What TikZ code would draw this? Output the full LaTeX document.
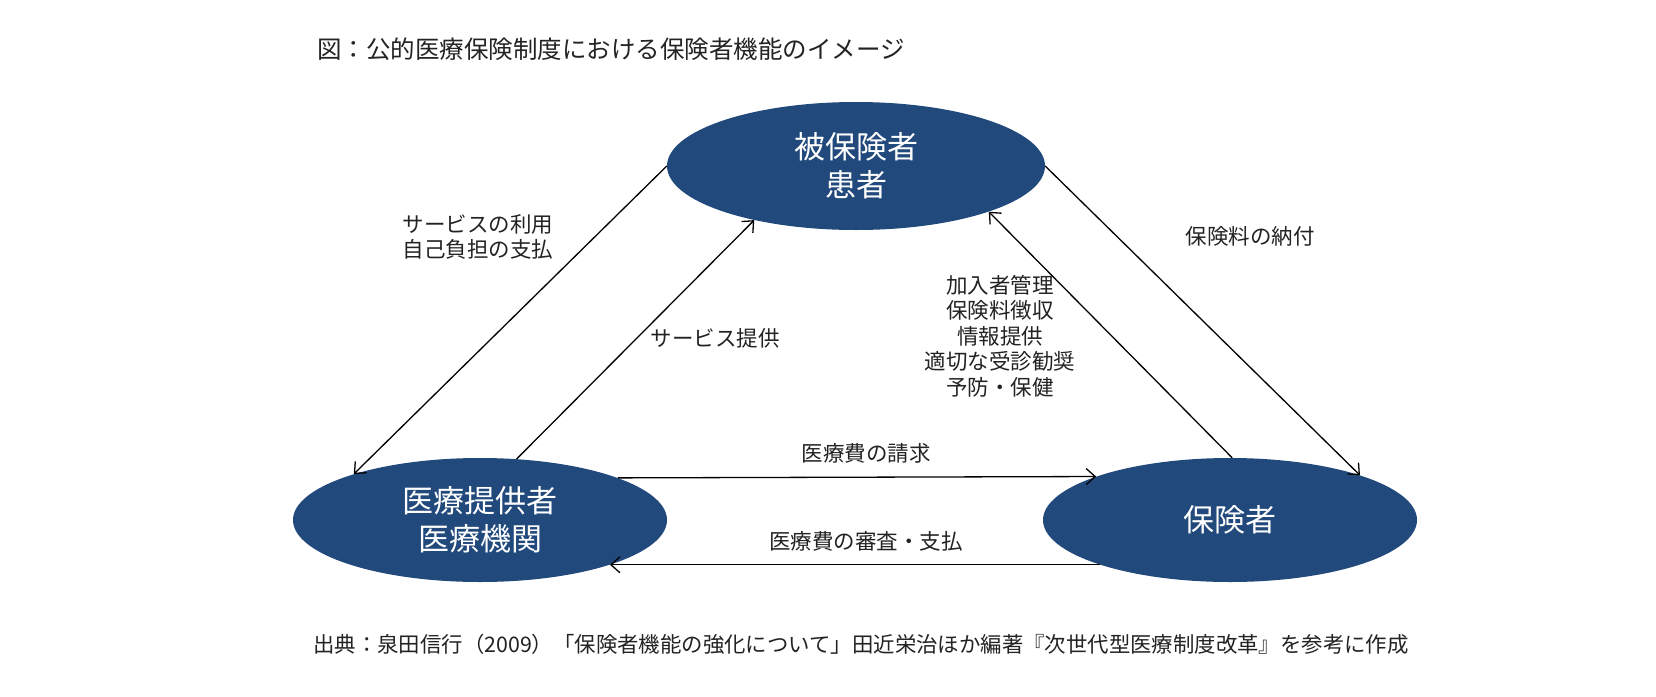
\documentclass[tikz,border=0pt]{standalone}
\usepackage{fontspec}
\setmainfont{Noto Sans CJK JP}
\usetikzlibrary{shapes.geometric,arrows.meta}
\definecolor{nodeblue}{RGB}{33,73,124}
\definecolor{txt}{RGB}{35,35,35}
\tikzset{
  party/.style={ellipse, fill=nodeblue, draw=none, text=white, inner sep=0pt,
    minimum width=374pt, minimum height=124pt, align=center,
    font=\fontsize{31}{38}\selectfont},
  flow/.style={-{Straight Barb[length=9pt,width=16pt]}, line width=1.3pt, draw=black},
  lbl/.style={text=txt, align=center, inner sep=0pt, font=\fontsize{21.5}{25.5}\selectfont},
  head/.style={text=txt, anchor=west, inner sep=0pt, font=\fontsize{24.5}{28}\selectfont},
  src/.style={text=txt, anchor=west, inner sep=0pt, font=\fontsize{21.4}{26}\selectfont}
}
\begin{document}
\begin{tikzpicture}[x=1pt,y=-1pt]
\useasboundingbox (0,0) rectangle (1656,696);
\fill[white] (0,0) rectangle (1656,696);
% nodes
\node[party, minimum width=378pt, minimum height=128pt] (hi) at (856,166) {被保険者\\患者};
\node[party] (iryo) at (480,520) {医療提供者\\医療機関};
\node[party] (hoken) at (1230,520) {保険者};
% connectors
\draw[flow] (hi.180) -- (iryo.160);
\draw[flow] (iryo.59) -- (hi.208);
\draw[flow] (hoken.88) -- (hi.341);
\draw[flow] (hi.0) -- (hoken.19);
\draw[flow] (iryo.17.7) -- (hoken.162.3);
\draw[flow] (hoken.199.3) -- (iryo.-19.3);
% labels
\node[lbl] (l1) at (478,237) {サービスの利用\\自己負担の支払};
\node[lbl] (l2) at (715,338) {サービス提供};
\node[lbl] (l3) at (1250,236) {保険料の納付};
\node[lbl] (l4) at (1000,336) {加入者管理\\保険料徴収\\情報提供\\適切な受診勧奨\\予防・保健};
\node[lbl] (l5) at (866,453) {医療費の請求};
\node[lbl] (l6) at (866,541) {医療費の審査・支払};
\node[head] (title) at (317,49) {図：公的医療保険制度における保険者機能のイメージ};
\node[src] (source) at (313,644) {出典：泉田信行（2009）「保険者機能の強化について」田近栄治ほか編著『次世代型医療制度改革』を参考に作成};
\end{tikzpicture}
\end{document}
